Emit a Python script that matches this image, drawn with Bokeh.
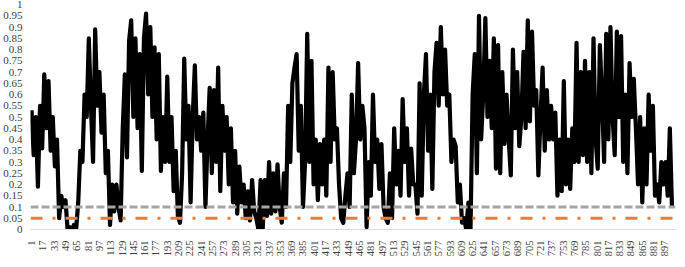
import math
from bokeh.plotting import figure
from bokeh.models import Range1d, FixedTicker, Span, CustomJSTickFormatter
from bokeh.embed import file_html
from bokeh.resources import INLINE

# series sampled every 3rd observation (observation numbers 1, 4, 7, ...)
values = [
    0.53, 0.33, 0.5, 0.19, 0.55, 0.36, 0.69, 0.45, 0.66, 0.35,
    0.5, 0.28, 0.4, 0.05, 0.15, 0.1, 0.13, 0.0, 0.01, 0.0,
    0.02, 0.0, 0.12, 0.35, 0.3, 0.6, 0.5, 0.85, 0.55, 0.3,
    0.89, 0.55, 0.7, 0.43, 0.6, 0.25, 0.35, 0.02, 0.2, 0.08,
    0.2, 0.1, 0.04, 0.45, 0.69, 0.32, 0.84, 0.93, 0.5, 0.85,
    0.45, 0.78, 0.26, 0.85, 0.96, 0.6, 0.9, 0.5, 0.81, 0.4,
    0.78, 0.26, 0.5, 0.3, 0.68, 0.3, 0.5, 0.17, 0.35, 0.06,
    0.03, 0.25, 0.76, 0.4, 0.55, 0.12, 0.5, 0.73, 0.4, 0.5,
    0.35, 0.52, 0.1, 0.4, 0.63, 0.25, 0.62, 0.3, 0.72, 0.17,
    0.55, 0.35, 0.5, 0.2, 0.45, 0.12, 0.35, 0.07, 0.28, 0.12,
    0.2, 0.05, 0.17, 0.04, 0.22, 0.08, 0.05, 0.0, 0.22, 0.0,
    0.22, 0.06, 0.3, 0.07, 0.25, 0.08, 0.29, 0.1, 0.03, 0.25,
    0.1, 0.55, 0.3, 0.65, 0.72, 0.78, 0.35, 0.55, 0.1, 0.3,
    0.87, 0.3, 0.75, 0.2, 0.4, 0.13, 0.38, 0.2, 0.4, 0.15,
    0.72, 0.3, 0.7, 0.4, 0.45, 0.2, 0.05, 0.03, 0.15, 0.25,
    0.1, 0.6, 0.25, 0.4, 0.74, 0.4, 0.55, 0.45, 0.01, 0.3,
    0.15, 0.6, 0.3, 0.4, 0.18, 0.38, 0.1, 0.05, 0.03, 0.25,
    0.05, 0.45, 0.2, 0.35, 0.15, 0.58, 0.3, 0.45, 0.15, 0.36,
    0.2, 0.2, 0.07, 0.65, 0.15, 0.6, 0.78, 0.35, 0.6, 0.18,
    0.7, 0.83, 0.55, 0.9, 0.6, 0.8, 0.55, 0.6, 0.3, 0.4,
    0.37, 0.12, 0.2, 0.03, 0.05, 0.0, 0.12, 0.0, 0.6, 0.78,
    0.25, 0.95, 0.4, 0.6, 0.94, 0.5, 0.75, 0.45, 0.85, 0.27,
    0.82, 0.25, 0.7, 0.38, 0.6, 0.4, 0.24, 0.8, 0.45, 0.7,
    0.37, 0.5, 0.79, 0.45, 0.93, 0.48, 0.88, 0.55, 0.62, 0.24,
    0.5, 0.72, 0.35, 0.62, 0.4, 0.55, 0.4, 0.52, 0.15, 0.4,
    0.17, 0.66, 0.2, 0.4, 0.18, 0.45, 0.3, 0.83, 0.3, 0.7,
    0.33, 0.75, 0.3, 0.7, 0.25, 0.85, 0.4, 0.27, 0.82, 0.6,
    0.3, 0.87, 0.4, 0.9, 0.5, 0.33, 0.88, 0.5, 0.86, 0.3,
    0.6, 0.25, 0.74, 0.5, 0.67, 0.45, 0.2, 0.5, 0.12, 0.45,
    0.2, 0.6, 0.35, 0.55, 0.15, 0.2, 0.12, 0.3, 0.2, 0.3,
    0.15, 0.45, 0.1,
]
obs = [1 + 3 * k for k in range(len(values))]

threshold_gray = 0.1
threshold_orange = 0.05

x_tick_labels = list(range(1, 898, 16))
y_ticks = [0, 0.05, 0.1, 0.15, 0.2, 0.25, 0.3, 0.35, 0.4, 0.45, 0.5,
           0.55, 0.6, 0.65, 0.7, 0.75, 0.8, 0.85, 0.9, 0.95, 1]

FONT = "Liberation Serif"

p = figure(width=677, height=267, output_backend="svg", toolbar_location=None,
           x_range=Range1d(-0.5, 912), y_range=Range1d(0, 1),
           min_border_left=20, min_border_right=2, min_border_top=12,
           min_border_bottom=22, margin=(-8, -8, -8, 0))
p.outline_line_color = None
p.grid.visible = False
p.background_fill_color = "white"
p.border_fill_color = "white"

p.line(obs, values, line_color="black", line_width=4.2, line_join="round")

p.add_layout(Span(location=threshold_gray, dimension="width",
                  line_color="#a5a5a5", line_width=3, line_dash="8 3"))
p.add_layout(Span(location=threshold_orange, dimension="width",
                  line_color="#ed7d31", line_width=3, line_dash="12 10 3 10"))

xa = p.xaxis[0]
xa.ticker = FixedTicker(ticks=x_tick_labels)
xa.major_label_orientation = math.pi / 2
xa.major_tick_line_color = None
xa.minor_tick_line_color = None
xa.axis_line_color = "#d9d9d9"
xa.axis_line_width = 1
xa.major_label_standoff = 5
xa.major_label_text_font = FONT
xa.major_label_text_font_size = "10.5px"
xa.major_label_text_color = "#404040"

ya = p.yaxis[0]
ya.ticker = FixedTicker(ticks=y_ticks)
ya.formatter = CustomJSTickFormatter(
    code="return tick.toFixed(2).replace(/0+$/, '').replace(/\\.$/, '');")
ya.axis_line_color = None
ya.major_tick_line_color = None
ya.minor_tick_line_color = None
ya.major_label_standoff = 2
ya.major_label_text_font = FONT
ya.major_label_text_font_size = "11px"
ya.major_label_text_color = "#404040"

open("out.html", "w").write(file_html(p, INLINE))
